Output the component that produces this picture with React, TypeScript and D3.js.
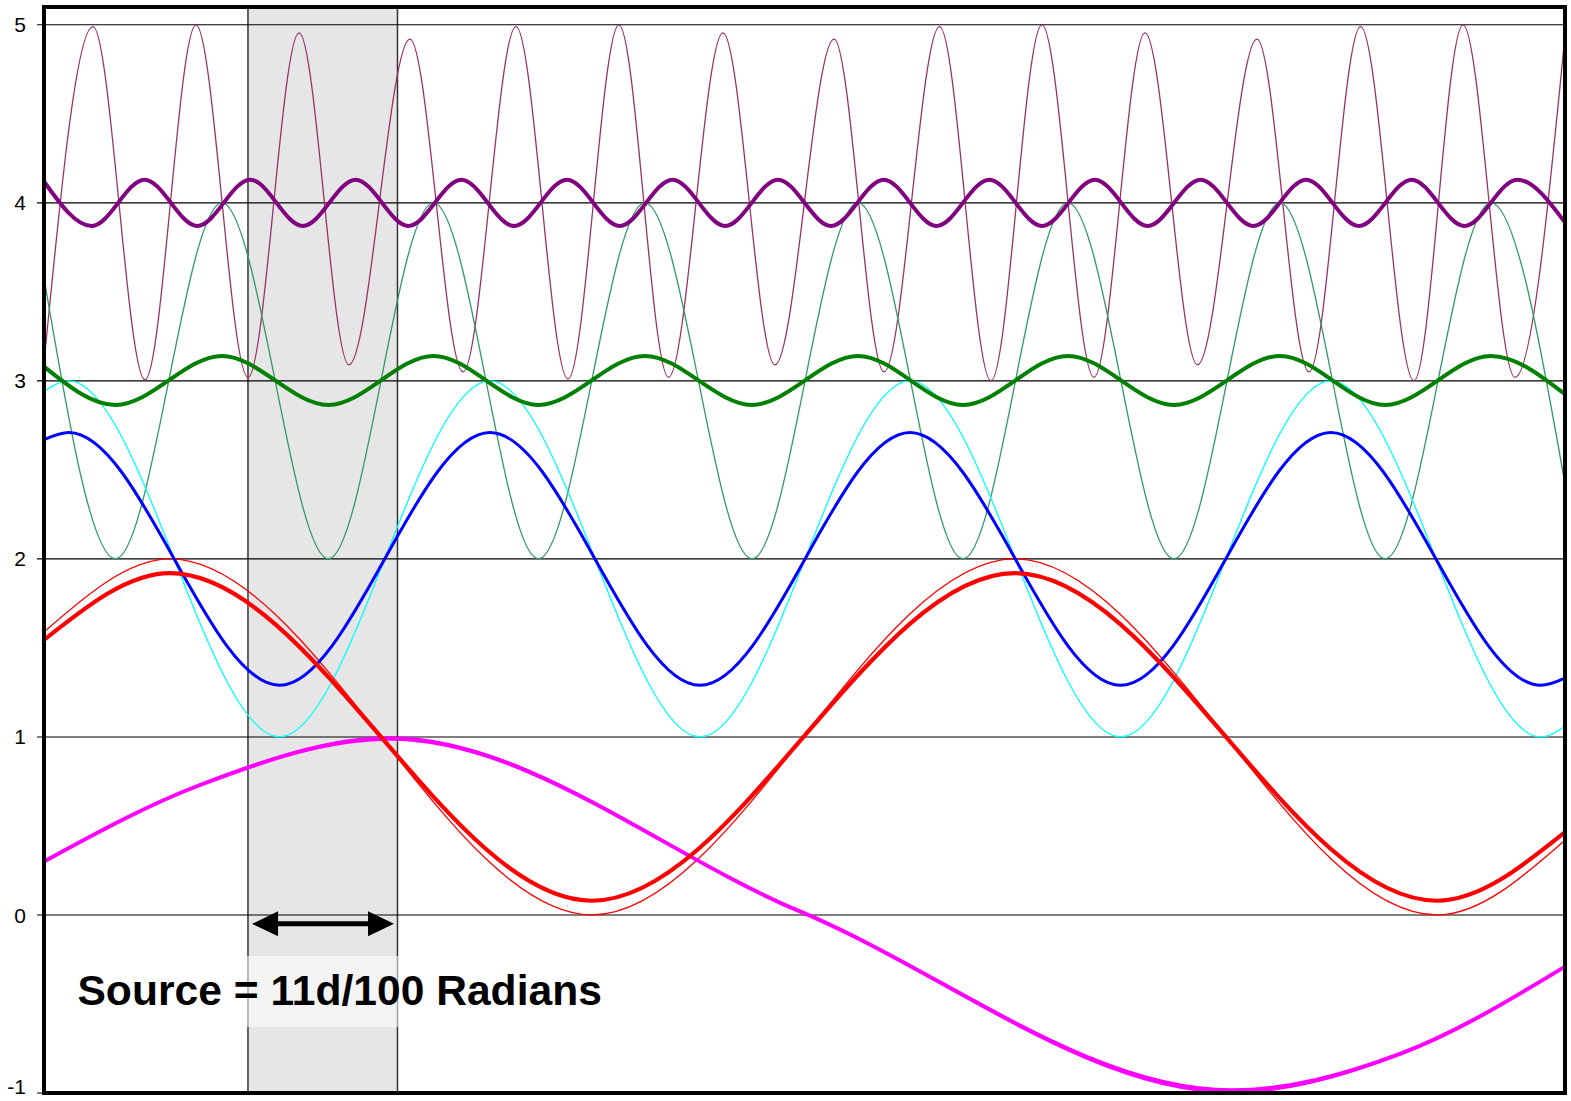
import React from 'react';
import * as d3 from 'd3';

// y axis tick labels
const yTicks = [-1, 0, 1, 2, 3, 4, 5];

// shaded window and its arrow (x in the chart's 0..100 units)
const bandStart = 13.41;
const bandEnd = 23.24;
const arrowStart = 13.68;
const arrowEnd = 23.01;
const arrowLevel = -0.05;
const label = 'Source = 11d/100 Radians';

// magenta: lowest frequency
const magentaX = [0, 10.26, 22.75, 49.7, 78.11, 89.15, 100];
const magentaThickY = [0.3, 0.73, 0.99, 0.02, -0.985, -0.78, -0.29];
const magentaThinY = [0.3, 0.735, 1.0, 0.02, -1.0, -0.785, -0.29];

// red
const redX = [0, 8.28, 36.03, 63.84, 91.58, 100];
const redThin = [1.59, 2.0, 0.0, 2.0, 0.0, 0.42];
const redThick = [1.545, 1.92, 0.08, 1.92, 0.08, 0.465];

// cyan / blue
const cyanX = [0, 1.64, 15.48, 29.32, 43.13, 56.94, 70.78, 84.61, 98.42, 100];
const cyanThin = [2.94, 3.0, 1.0, 3.0, 1.0, 3.0, 1.0, 3.0, 1.0, 1.06];
const blueThick = [2.67, 2.71, 1.29, 2.71, 1.29, 2.71, 1.29, 2.71, 1.29, 1.33];

// greens
const greenX = [0, 4.7, 11.7, 18.7, 25.61, 32.51, 39.51, 46.55, 53.52, 60.42, 67.32, 74.29, 81.26, 88.17, 95.13, 100];
const greenThin = [3.58, 2.0, 4.0, 2.0, 4.0, 2.0, 4.0, 2.0, 4.0, 2.0, 4.0, 2.0, 4.0, 2.0, 4.0, 2.42];
const greenThick = [3.08, 2.865, 3.14, 2.865, 3.14, 2.865, 3.14, 2.865, 3.14, 2.865, 3.14, 2.865, 3.14, 2.865, 3.14, 2.925];

// purples: highest frequency
const purpleThinX = [0, 3.22, 6.64, 9.99, 13.41, 16.77, 20.05, 24.06, 27.55, 31.03, 34.45, 37.8, 41.06, 44.64, 48.06,
  51.94, 55.23, 58.88, 62.26, 65.61, 69.03, 72.39, 75.84, 79.75, 83.17, 86.56, 90.07, 93.29, 96.71, 100];
const purpleThinY = [3.1, 4.99, 3.006, 5.0, 3.02, 4.955, 3.09, 4.92, 3.05, 4.99, 3.01, 5.0, 3.02, 4.955, 3.09,
  4.92, 3.05, 4.99, 3.0, 5.0, 3.02, 4.955, 3.09, 4.92, 3.05, 4.99, 3.0, 5.0, 3.02, 4.94];
const purpleThickX = [0, 3.14, 6.61, 10.08, 13.55, 17.02, 20.49, 23.96, 27.44, 30.91, 34.38, 37.85, 41.32, 44.79, 48.26,
  51.74, 55.21, 58.68, 62.15, 65.62, 69.09, 72.56, 76.04, 79.51, 82.98, 86.45, 89.92, 93.39, 96.86, 100];
const purpleThickY = [4.12, 3.87, 4.13, 3.87, 4.13, 3.87, 4.13, 3.87, 4.13, 3.87, 4.13, 3.87, 4.13, 3.87, 4.13,
  3.87, 4.13, 3.87, 4.13, 3.87, 4.13, 3.87, 4.13, 3.87, 4.13, 3.87, 4.13, 3.87, 4.13, 3.89];

const W = 1571;
const H = 1101;
const plot = { left: 44, right: 1565, top: 7, bottom: 1093 };

export default function App() {
  const x = d3.scaleLinear().domain([0, 100]).range([plot.left, plot.right]);
  const y = d3.scaleLinear().domain([-1, 5.1]).range([plot.bottom, plot.top]);

  const line = d3.line<[number, number]>()
    .x(d => x(d[0]))
    .y(d => y(d[1]))
    .curve(d3.curveMonotoneX);

  const pts = (xs: number[], ys: number[]) => xs.map((v, i) => [v, ys[i]] as [number, number]);

  const series = [
    { key: 'purpleThin', d: pts(purpleThinX, purpleThinY), color: '#993366', width: 1.3 },
    { key: 'greenThin', d: pts(greenX, greenThin), color: '#339966', width: 1.3 },
    { key: 'cyanThin', d: pts(cyanX, cyanThin), color: '#00ffff', width: 1.3 },
    { key: 'redThin', d: pts(redX, redThin), color: '#ff0000', width: 1.3 },
    { key: 'magentaThin', d: pts(magentaX, magentaThinY), color: '#ff00ff', width: 1.5 },
    { key: 'magentaThick', d: pts(magentaX, magentaThickY), color: '#ff00ff', width: 4 },
    { key: 'purpleThick', d: pts(purpleThickX, purpleThickY), color: '#800080', width: 4 },
    { key: 'greenThick', d: pts(greenX, greenThick), color: '#008000', width: 4 },
    { key: 'blueThick', d: pts(cyanX, blueThick), color: '#0000ff', width: 3 },
    { key: 'redThick', d: pts(redX, redThick), color: '#ff0000', width: 4.2 },
  ];

  const ay = y(arrowLevel);
  const ax0 = x(arrowStart);
  const ax1 = x(arrowEnd);
  const headL = 26;
  const headW = 12.5;

  return (
    <svg width={W} height={H} style={{ position: 'absolute', left: 0, top: 0, background: 'white' }}>
      <rect x={0} y={0} width={W} height={H} fill="white" />

      {/* shaded averaging window */}
      <rect x={x(bandStart)} y={plot.top} width={x(bandEnd) - x(bandStart)} height={plot.bottom - plot.top} fill="#e6e6e6" />
      <line x1={x(bandStart)} x2={x(bandStart)} y1={plot.top} y2={plot.bottom} stroke="#333" strokeWidth={1.5} />
      <line x1={x(bandEnd)} x2={x(bandEnd)} y1={plot.top} y2={plot.bottom} stroke="#333" strokeWidth={1.5} />

      {/* gridlines + ticks */}
      {yTicks.map(t => (
        <g key={t}>
          <line x1={37} x2={plot.right} y1={y(t)} y2={y(t)} stroke="#000" strokeWidth={1.1} />
          <text
            x={26}
            y={Math.min(y(t), H - 15)}
            dy="0.36em"
            textAnchor="end"
            fontFamily="Liberation Sans, Arial, sans-serif"
            fontSize={21}
            fill="#000"
          >
            {t}
          </text>
        </g>
      ))}

      {series.map(s => (
        <path key={s.key} d={line(s.d) || ''} fill="none" stroke={s.color} strokeWidth={s.width} strokeLinejoin="round" />
      ))}

      {/* label with its faint box */}
      <rect x={x(1.5)} y={y(-0.23)} width={x(37) - x(1.5)} height={y(-0.63) - y(-0.23)} fill="white" fillOpacity={0.55} />
      <text
        x={x(2.2)}
        y={y(-0.505)}
        fontFamily="Liberation Sans, Arial, sans-serif"
        fontWeight="bold"
        fontSize={42.6}
        fill="#000"
      >
        {label}
      </text>

      {/* double arrow */}
      <line x1={ax0 + headL - 2} x2={ax1 - headL + 2} y1={ay} y2={ay} stroke="#000" strokeWidth={5} />
      <polygon points={`${ax0},${ay} ${ax0 + headL},${ay - headW} ${ax0 + headL},${ay + headW}`} fill="#000" />
      <polygon points={`${ax1},${ay} ${ax1 - headL},${ay - headW} ${ax1 - headL},${ay + headW}`} fill="#000" />

      {/* plot frame */}
      <rect
        x={plot.left}
        y={plot.top}
        width={plot.right - plot.left}
        height={plot.bottom - plot.top}
        fill="none"
        stroke="#000"
        strokeWidth={4}
      />
    </svg>
  );
}
